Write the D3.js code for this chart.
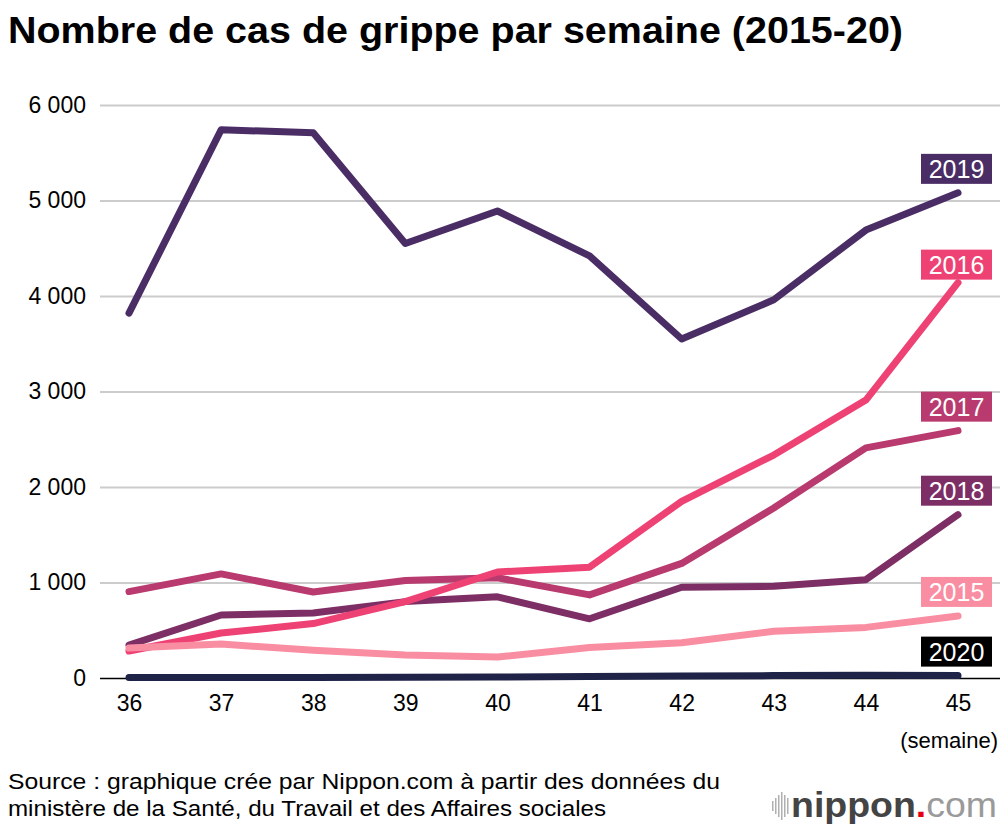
<!DOCTYPE html>
<meta charset="utf-8">
<script src="https://d3js.org/d3.v7.min.js"></script>
<style>
  body { margin: 0; background: #fff; }
  text { font-family: "Liberation Sans", Arial, sans-serif; }
</style>
<div id="chart"></div>
<script>
// weeks and weekly flu cases
var weeks = [36, 37, 38, 39, 40, 41, 42, 43, 44, 45];
var yTicks = [0, 1000, 2000, 3000, 4000, 5000, 6000];

var cases2015 = [314, 356, 290, 240, 220, 320, 370, 490, 530, 650];
var cases2016 = [283, 471, 570, 800, 1110, 1160, 1850, 2335, 2910, 4140];
var cases2017 = [905, 1090, 900, 1020, 1050, 870, 1200, 1780, 2410, 2590];
var cases2018 = [345, 660, 680, 800, 850, 620, 950, 960, 1030, 1710];
var cases2019 = [3820, 5740, 5710, 4550, 4890, 4420, 3550, 3960, 4690, 5080];
var cases2020 = [5, 5, 5, 8, 10, 15, 20, 25, 30, 25];

// drawing order: last one on top
var years = ["2017", "2018", "2016", "2015", "2019", "2020"];
var valuesByYear = {
  "2015": cases2015, "2016": cases2016, "2017": cases2017,
  "2018": cases2018, "2019": cases2019, "2020": cases2020
};

var lineColor = {
  "2015": "#f98ea3", "2016": "#ee4275", "2017": "#b93a6e",
  "2018": "#7d2e65", "2019": "#4b2d66", "2020": "#1f2347"
};
var boxColor = Object.assign({}, lineColor, {"2020": "#000000"});
var labelNudge = {"2016": 6};

//----------------drawing stuff---------------------
var width = 1000, height = 828;

var svg = d3.select("#chart")
  .append("svg")
  .attr("width", width)
  .attr("height", height);

var xs = d3.scaleLinear().domain([36, 45]).range([129, 958]);
var ys = d3.scaleLinear().domain([0, 6000]).range([678, 105]);

// title
svg.append("text")
  .attr("x", 8)
  .attr("y", 43)
  .style("font-size", "37px")
  .style("font-weight", "bold")
  .attr("textLength", 895)
  .attr("lengthAdjust", "spacingAndGlyphs")
  .text("Nombre de cas de grippe par semaine (2015-20)");

// gridlines + y labels
var yAxis = svg.append("g")
  .attr("transform", "translate(100,0)")
  .call(d3.axisLeft(ys)
    .tickValues(yTicks)
    .tickSize(-(width - 100))
    .tickPadding(14)
    .tickFormat(function(d) { return d3.format(",")(d).replace(",", " "); }));

yAxis.select(".domain").remove();
yAxis.selectAll(".tick line")
  .attr("stroke", function(d) { return d === 0 ? "#000" : "#cccccc"; })
  .attr("stroke-width", function(d) { return d === 0 ? 1.5 : 2; });
yAxis.selectAll(".tick text")
  .style("font-size", "23px")
  .attr("fill", "#000");

// x axis labels
var xAxis = svg.append("g")
  .attr("transform", "translate(0,678)")
  .call(d3.axisBottom(xs).tickValues(weeks).tickSize(0).tickPadding(17).tickFormat(d3.format("d")));
xAxis.select(".domain").remove();
xAxis.selectAll(".tick text")
  .style("font-size", "23px")
  .attr("fill", "#000");

svg.append("text")
  .attr("x", 998)
  .attr("y", 748)
  .attr("text-anchor", "end")
  .style("font-size", "22px")
  .text("(semaine)");

// lines
var line = d3.line()
  .x(function(d, i) { return xs(weeks[i]); })
  .y(function(d) { return ys(d); });

years.forEach(function(yr) {
  svg.append("path")
    .datum(valuesByYear[yr])
    .attr("d", line)
    .attr("fill", "none")
    .attr("stroke", lineColor[yr])
    .attr("stroke-width", 7)
    .attr("stroke-linecap", "round")
    .attr("stroke-linejoin", "round");
});

// year labels at end of lines
years.forEach(function(yr) {
  var vals = valuesByYear[yr];
  var cy = ys(vals[vals.length - 1]) - 24 + (labelNudge[yr] || 0);
  var g = svg.append("g");
  g.append("rect")
    .attr("x", 921)
    .attr("y", cy - 15)
    .attr("width", 71)
    .attr("height", 30)
    .attr("fill", boxColor[yr]);
  g.append("text")
    .attr("x", 956.5)
    .attr("y", cy + 9)
    .attr("text-anchor", "middle")
    .attr("fill", "#fff")
    .style("font-size", "25px")
    .text(yr);
});

// source
svg.append("text")
  .attr("x", 8)
  .attr("y", 789)
  .style("font-size", "22px")
  .attr("textLength", 712)
  .attr("lengthAdjust", "spacingAndGlyphs")
  .text("Source : graphique crée par Nippon.com à partir des données du");
svg.append("text")
  .attr("x", 8)
  .attr("y", 816)
  .style("font-size", "22px")
  .attr("textLength", 598)
  .attr("lengthAdjust", "spacingAndGlyphs")
  .text("ministère de la Santé, du Travail et des Affaires sociales");

// logo
var barHeights = [10, 16, 22, 28, 22, 16];
var logo = svg.append("g");
barHeights.forEach(function(h, i) {
  logo.append("rect")
    .attr("x", 772 + i * 3)
    .attr("y", 806 - h / 2)
    .attr("width", 1.5)
    .attr("height", h)
    .attr("fill", "#b0b0b0");
});
var logoText = logo.append("text")
  .attr("x", 791)
  .attr("y", 817)
  .attr("textLength", 206)
  .attr("lengthAdjust", "spacingAndGlyphs")
  .style("font-size", "35px");
logoText.append("tspan").attr("fill", "#444").style("font-weight", "bold").text("nippon");
logoText.append("tspan").attr("fill", "#e60012").style("font-weight", "bold").text(".");
logoText.append("tspan").attr("fill", "#9a9a9a").style("font-weight", "300").text("com");
</script>
